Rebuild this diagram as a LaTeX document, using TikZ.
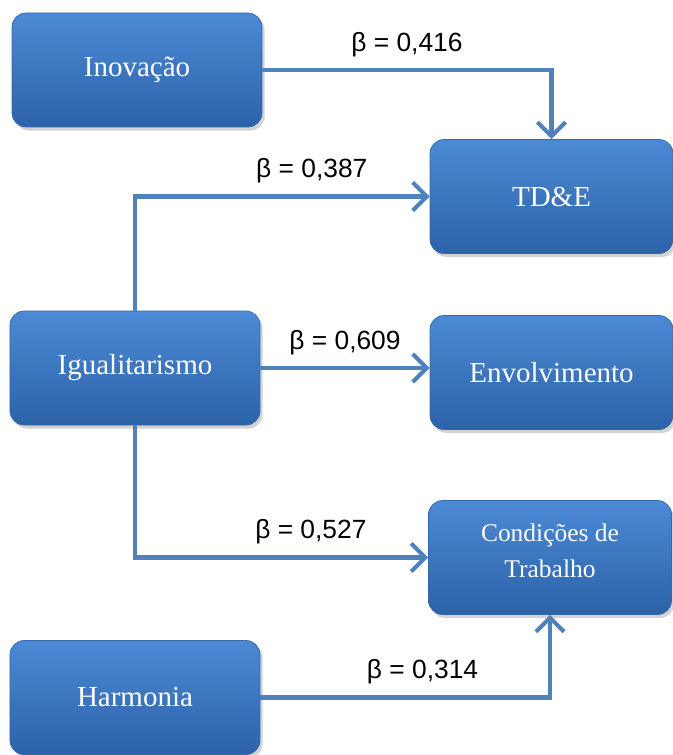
\documentclass[tikz,border=0pt]{standalone}
\usepackage{fontspec}
\setmainfont{Liberation Serif}
\newfontfamily\betafont{Liberation Sans}
\usetikzlibrary{arrows.meta, positioning, calc, shadows}
\usepackage{xcolor}
\definecolor{BoxTop}{RGB}{76, 138, 214}
\definecolor{BoxBottom}{RGB}{44, 98, 168}
\definecolor{BoxEdge}{RGB}{52, 104, 170}
\definecolor{Link}{RGB}{79, 129, 189}

\begin{document}
\begin{tikzpicture}[
    factor/.style={rounded corners=8pt, top color=BoxTop, bottom color=BoxBottom,
      draw=BoxEdge, thin, text=white, font=\fontsize{16.5}{19}\selectfont,
      minimum width=5.0cm, minimum height=2.28cm, align=center,
      drop shadow={shadow xshift=1.5pt, shadow yshift=-2pt, opacity=0.35}},
    outcome/.style={factor, minimum width=4.86cm},
    link/.style={draw=Link, line width=2.3pt,
      -{Straight Barb[length=8pt, width=16pt, line width=2.3pt]}},
    beta/.style={above=3pt, text=black, font=\betafont\fontsize{15}{17}\selectfont}
  ]
      \useasboundingbox (0,0) rectangle (13.46,-15.1);
      % Factors (left)
      \node[factor] (inov) at (2.74,-1.40) {Inovação};
      \node[factor] (igual) at (2.70,-7.36) {Igualitarismo};
      \node[factor] (harm) at (2.70,-13.95) {Harmonia};
      % Outcomes (right)
      \node[outcome] (tde) at (11.03,-3.93) {TD\&E};
      \node[outcome] (envol) at (11.03,-7.45) {Envolvimento};
      \node[outcome, font=\fontsize{14.5}{20.5}\selectfont] (cond) at (11.0,-11.15) {Condições de\\Trabalho\\[-13pt]};
      % Links
      \draw[link] (inov.east) -| node[beta, pos=0.25] {β = 0,416} (tde.north);
      \draw[link] (igual.north) |- node[beta, pos=0.8] {β = 0,387} (tde.west);
      \draw[link] (igual.east) -- node[beta] {β = 0,609} (igual.east -| envol.west);
      \draw[link] (igual.south) |- node[beta, pos=0.8] {β = 0,527} (cond.west);
      \draw[link] (harm.east) -| node[beta, pos=0.28] {β = 0,314} (cond.south);
\end{tikzpicture}
\end{document}
